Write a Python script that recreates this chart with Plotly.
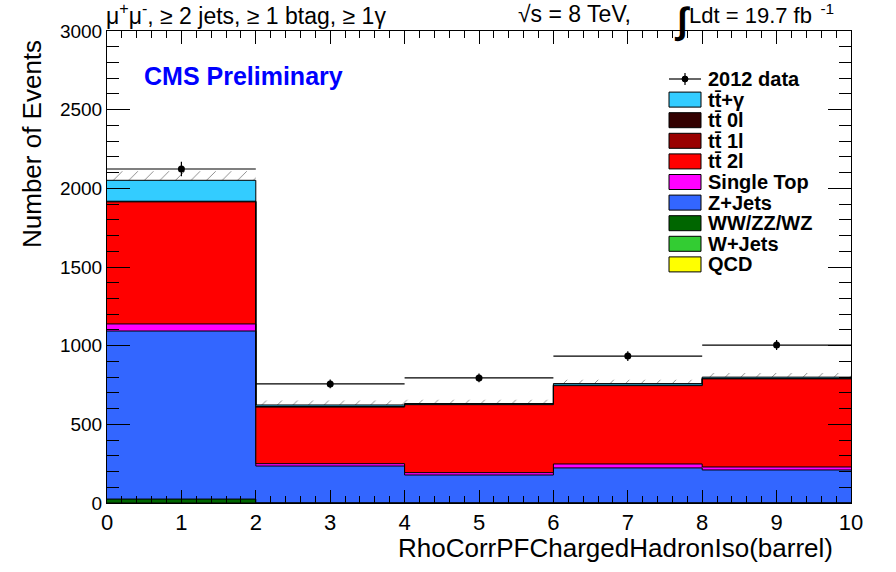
import numpy as np
import plotly.graph_objects as go

# ---------------- data ----------------
bin_edges = [0, 2, 4, 6, 8, 10]
bin_centers = [1, 3, 5, 7, 9]
bin_halfwidth = [1, 1, 1, 1, 1]

# stack order: bottom -> top
qcd       = [0, 0, 0, 0, 0]
wjets     = [0, 0, 0, 0, 0]
diboson   = [25, 2, 2, 2, 2]
zjets     = [1068, 233, 176, 221, 208]
singletop = [45, 15, 15, 25, 19]
tt2l      = [776, 360, 432, 498, 560]
tt1l      = [4, 3, 3, 3, 3]
tt0l      = [0, 0, 0, 0, 0]
ttgamma   = [133, 10, 4, 10, 8]

data_vals = [2123, 757, 795, 934, 1004]
data_errs = [46, 28, 28, 31, 32]
mc_unc    = [58, 28, 25, 25, 27]

names = ["QCD", "W+Jets", "WW/ZZ/WZ", "Z+Jets", "Single Top",
         "tt\u0304 2l", "tt\u0304 1l", "tt\u0304 0l", "tt\u0304+\u03b3"]
series = [qcd, wjets, diboson, zjets, singletop, tt2l, tt1l, tt0l, ttgamma]
colors = ["#FFFF00", "#33CC33", "#006600", "#3366FF", "#FF00FF",
          "#FF0000", "#990000", "#330000", "#33CCFF"]

FONT = "Liberation Sans, Arial, Helvetica, sans-serif"

W, H = 896, 572
L, R, T, B = 107, 45, 31, 69
PW, PH = W - L - R, H - T - B


def px_x(px):
    return (px - L) / PW


def px_y(py):
    return (H - B - py) / PH


fig = go.Figure()

cum = np.zeros(len(bin_centers))
for i, (name, vals, col) in enumerate(zip(names, series, colors)):
    cum = cum + np.array(vals, dtype=float)
    ystep = list(cum) + [cum[-1]]
    fig.add_trace(go.Scatter(
        x=bin_edges, y=ystep, mode="lines", line=dict(shape="hv", color="black", width=1),
        fill="tozeroy" if i == 0 else "tonexty", fillcolor=col, name=name,
        hoverinfo="skip", showlegend=False))

total = cum
# hatched uncertainty band
fig.add_trace(go.Bar(
    x=bin_centers, y=[2 * u for u in mc_unc], base=[t - u for t, u in zip(total, mc_unc)],
    width=[2 * w for w in bin_halfwidth],
    marker=dict(color="rgba(0,0,0,0)", line=dict(width=0),
                pattern=dict(shape="/", fgcolor="black", bgcolor="rgba(0,0,0,0)",
                             size=11, solidity=0.08)),
    showlegend=False, hoverinfo="skip"))

# data points
fig.add_trace(go.Scatter(
    x=bin_centers, y=data_vals, mode="markers",
    marker=dict(color="black", size=7, symbol="circle"),
    error_y=dict(type="data", array=data_errs, color="black", thickness=1.2, width=0),
    error_x=dict(type="data", array=bin_halfwidth, color="black", thickness=1.2, width=0),
    showlegend=False, name="2012 data"))

fig.update_layout(
    width=W, height=H,
    margin=dict(l=L, r=R, t=T, b=B),
    plot_bgcolor="white", paper_bgcolor="white",
    barmode="overlay",
    font=dict(family=FONT, color="black"),
    showlegend=False,
)

fig.update_xaxes(
    range=[0, 10], showgrid=False, zeroline=False,
    showline=True, linecolor="black", linewidth=1, mirror="ticks",
    ticks="inside", ticklen=13, tickcolor="black", tickwidth=1,
    dtick=1, tick0=0,
    minor=dict(ticks="inside", ticklen=7, dtick=0.2, tickcolor="black", showgrid=False),
    tickfont=dict(family=FONT, size=22, color="black"),
)
fig.update_yaxes(
    range=[0, 3000], showgrid=False, zeroline=False,
    showline=True, linecolor="black", linewidth=1, mirror="ticks",
    ticks="inside", ticklen=23, tickcolor="black", tickwidth=1,
    dtick=500, tick0=0,
    minor=dict(ticks="inside", ticklen=12, dtick=100, tickcolor="black", showgrid=False),
    tickfont=dict(family=FONT, size=19, color="black"),
)

annotations = [
    dict(text="Number of Events", textangle=-90, xref="paper", yref="paper",
         x=px_x(32), y=px_y(38), xanchor="center", yanchor="top", showarrow=False,
         font=dict(family=FONT, size=26)),
    dict(text="RhoCorrPFChargedHadronIso(barrel)", xref="paper", yref="paper",
         x=px_x(835), y=px_y(548), xanchor="right", yanchor="middle", showarrow=False,
         font=dict(family=FONT, size=26)),
    dict(text="CMS Preliminary", xref="paper", yref="paper",
         x=px_x(142), y=px_y(76), xanchor="left", yanchor="middle", showarrow=False,
         font=dict(family=FONT, size=25, color="#0000FF", weight="bold")),
    dict(text="\u03bc<sup>+</sup>\u03bc<sup>-</sup>, \u2265 2 jets, \u2265 1 btag, \u2265 1\u03b3",
         xref="paper", yref="paper", x=px_x(104), y=px_y(14), xanchor="left", yanchor="middle",
         showarrow=False, font=dict(family=FONT, size=23)),
    dict(text="\u221as = 8 TeV,", xref="paper", yref="paper", x=px_x(516), y=px_y(14),
         xanchor="left", yanchor="middle", showarrow=False, font=dict(family=FONT, size=23)),
    dict(text="\u222b", xref="paper", yref="paper", x=px_x(672), y=px_y(21),
         xanchor="left", yanchor="middle", showarrow=False,
         font=dict(family=FONT, size=37, weight="bold")),
    dict(text="Ldt = 19.7 fb<sup>\u00a0\u00a0-1</sup>", xref="paper", yref="paper",
         x=px_x(687), y=px_y(14), xanchor="left", yanchor="middle", showarrow=False,
         font=dict(family=FONT, size=22)),
]

# ---------------- manual legend ----------------
shapes = []
leg_labels = ["2012 data"] + names[::-1]
leg_colors = [None] + colors[::-1]
row0, step = 79, 20.6
box_x0, box_x1 = 669, 701
for k, (lab, col) in enumerate(zip(leg_labels, leg_colors)):
    yc = row0 + k * step
    if col is None:
        shapes.append(dict(type="line", xref="paper", yref="paper",
                           x0=px_x(box_x0), x1=px_x(box_x1), y0=px_y(yc), y1=px_y(yc),
                           line=dict(color="black", width=1.2)))
        shapes.append(dict(type="line", xref="paper", yref="paper",
                           x0=px_x(685), x1=px_x(685), y0=px_y(yc - 6), y1=px_y(yc + 6),
                           line=dict(color="black", width=1.2)))
        shapes.append(dict(type="circle", xref="paper", yref="paper",
                           x0=px_x(682), x1=px_x(688), y0=px_y(yc - 3), y1=px_y(yc + 3),
                           fillcolor="black", line=dict(color="black", width=1)))
    else:
        shapes.append(dict(type="rect", xref="paper", yref="paper",
                           x0=px_x(box_x0), x1=px_x(box_x1), y0=px_y(yc - 7.5), y1=px_y(yc + 7.5),
                           fillcolor=col, line=dict(color="black", width=1)))
    annotations.append(dict(text=lab, xref="paper", yref="paper", x=px_x(706), y=px_y(yc),
                            xanchor="left", yanchor="middle", showarrow=False,
                            font=dict(family=FONT, size=20, weight="bold", color="black")))

fig.update_layout(annotations=annotations, shapes=shapes)

fig.write_html("out.html")
